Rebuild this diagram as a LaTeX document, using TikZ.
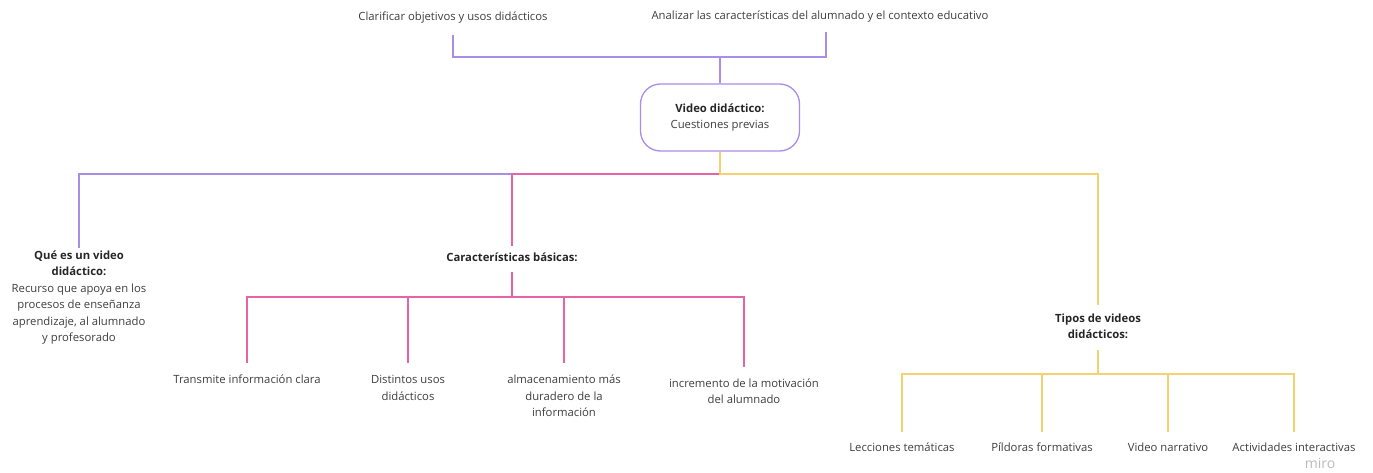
\documentclass[tikz,border=0pt]{standalone}
\usepackage{fontspec}
\setmainfont{Open Sans}
\definecolor{pur}{RGB}{168,142,230}
\definecolor{pnk}{RGB}{228,100,166}
\definecolor{yel}{RGB}{245,210,112}
\definecolor{txt}{RGB}{62,62,62}
\definecolor{wm}{RGB}{185,185,195}
\begin{document}
\begin{tikzpicture}[x=1pt,y=-1pt,
  lbl/.style={font=\fontsize{11.3}{16.5}\selectfont, text=txt, align=center, inner sep=0pt},
  ln/.style={line width=1.3pt},
  rootbox/.style={draw=pur, line width=1.3pt, rounded corners=20pt, minimum width=159pt, minimum height=67pt, align=center, inner sep=0pt, font=\fontsize{11.3}{16.5}\selectfont, text=txt}
]
\useasboundingbox (0,0) rectangle (1373,473);

% nodes
\node[lbl] (c1) at (453,18) {Clarificar objetivos y usos didácticos};
\node[lbl] (c2) at (820,17) {Analizar las características del alumnado y el contexto educativo};
\node[rootbox] (root) at (720,117.5) {{\bfseries\color{black!85}Video didáctico:}\\Cuestiones previas};
\node[lbl] (q) at (79,297.5) {{\bfseries\color{black!85}Qué es un video}\\{\bfseries\color{black!85}didáctico:}\\Recurso que apoya en los\\procesos de enseñanza\\aprendizaje, al alumnado\\y profesorado};
\node[lbl] (car) at (512,257) {\bfseries\color{black!85}Características básicas:};
\node[lbl] (t1) at (247,379) {Transmite información clara};
\node[lbl] (t2) at (408,388) {Distintos usos\\didácticos};
\node[lbl] (t3) at (564,396) {almacenamiento más\\duradero de la\\información};
\node[lbl] (t4) at (744,391) {incremento de la motivación\\del alumnado};
\node[lbl] (tip) at (1098,326.5) {{\bfseries\color{black!85}Tipos de videos}\\{\bfseries\color{black!85}didácticos:}};
\node[lbl] (l1) at (902,447) {Lecciones temáticas};
\node[lbl] (l2) at (1042,447) {Píldoras formativas};
\node[lbl] (l3) at (1168,447) {Video narrativo};
\node[lbl] (l4) at (1294,447) {Actividades interactivas};
\node[font=\fontsize{14}{14}\selectfont, text=wm, inner sep=0pt] (wmk) at (1320,463) {miro};

% junctions
\coordinate (j1) at (720,57);
\coordinate (j2) at (720,174);
\coordinate (j3) at (512,297);
\coordinate (j4) at (1098,374);
\coordinate (c2d) at (826,20);

% top
\draw[ln,pur] (c1 |- 0,35) |- (j1) -- (root.north);
\draw[ln,pur] (c2d |- 0,32) |- (j1);

% main branches
\draw[ln,pur] (j2) -| (q |- 0,248);
\draw[ln,pnk] (j2) -| (car |- 0,246);
\draw[ln,yel] (root.south) -- (j2) -| (tip |- 0,305);

% characteristics
\draw[ln,pnk] (car |- 0,272) -- (j3);
\draw[ln,pnk] (j3) -| (t1 |- 0,363);
\draw[ln,pnk] (j3) -| (t2 |- 0,363);
\draw[ln,pnk] (j3) -| (t3 |- 0,363);
\draw[ln,pnk] (j3) -| (t4 |- 0,367);

% types
\draw[ln,yel] (tip |- 0,350) -- (j4);
\draw[ln,yel] (j4) -| (l1 |- 0,432);
\draw[ln,yel] (j4) -| (l2 |- 0,432);
\draw[ln,yel] (j4) -| (l3 |- 0,432);
\draw[ln,yel] (j4) -| (l4 |- 0,432);
\end{tikzpicture}
\end{document}
